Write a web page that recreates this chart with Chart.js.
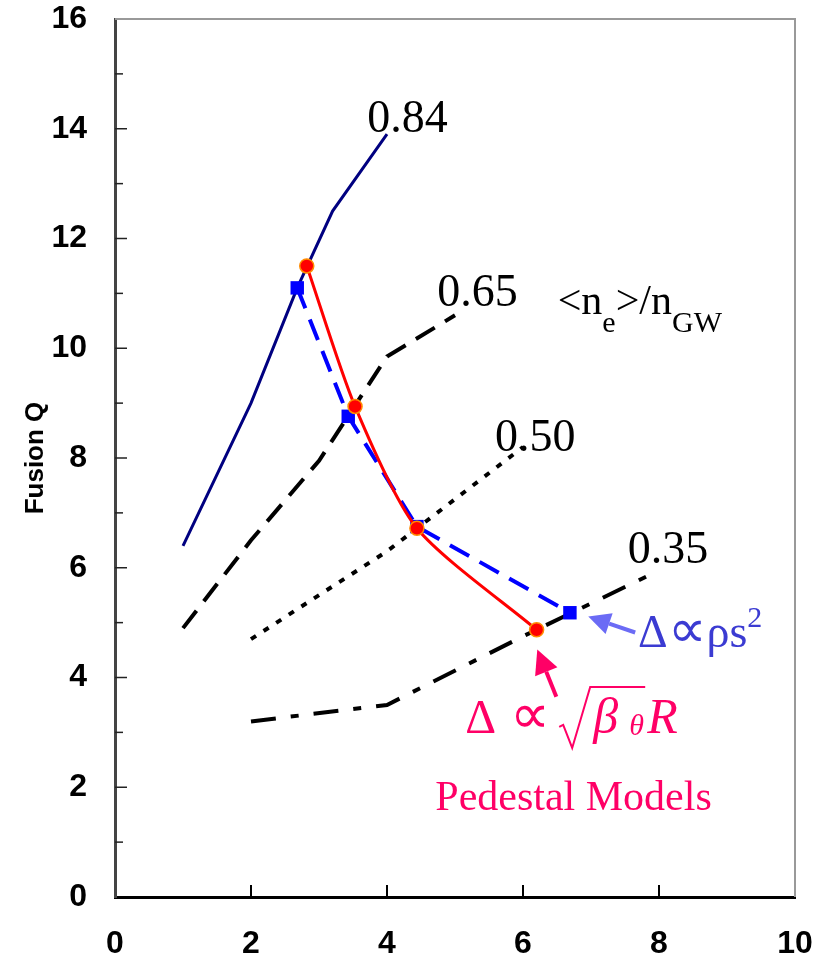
<!DOCTYPE html>
<html>
<head>
<meta charset="utf-8">
<script src="https://cdn.jsdelivr.net/npm/chart.js@4.4.1/dist/chart.umd.min.js"></script>
<style>
  body { margin: 0; background: #fff; }
  #wrap { width: 814px; height: 967px; }
</style>
</head>
<body>
<div id="wrap"><canvas id="fusion"></canvas></div>
<script>
// curves of constant <ne>/nGW
const x084 = [1, 2, 2.68, 3.2, 4];
const q084 = [6.4, 9.0, 11.1, 12.5, 13.9];
const x065 = [1, 2, 3, 4, 5];
const q065 = [4.9, 6.5, 7.95, 9.85, 10.6];
const x050 = [2, 4, 6];
const q050 = [4.7, 6.3, 8.2];
const x035 = [2, 4, 6, 8];
const q035 = [3.2, 3.5, 4.75, 5.95];

// pedestal models
const xSqrt = [2.82, 3.53, 4.44, 6.2];
const qSqrt = [11.5, 8.94, 6.72, 4.87];
const xRho = [2.68, 3.43, 4.44, 6.69];
const qRho = [11.1, 8.76, 6.75, 5.18];

const curveLabels = ['0.84', '0.65', '0.50', '0.35'];
const curveLabelX = [3.71, 4.74, 5.59, 7.54];
const curveLabelY = [13.94, 10.77, 8.12, 6.09];

const xTicks = [0, 2, 4, 6, 8, 10];
const yTicks = [0, 2, 4, 6, 8, 10, 12, 14, 16];
const yTitle = 'Fusion Q';

const pts = (xs, ys) => xs.map((x, i) => ({x: x, y: ys[i]}));

const serif = "'Liberation Serif', 'Times New Roman', serif";
const sans = "'Liberation Sans', Arial, sans-serif";
const pink = '#ff0066';

// inward ticks, top/right frame, axis title
const frame = {
  id: 'frame',
  afterDraw(chart) {
    const c = chart.ctx, a = chart.chartArea;
    const xs = chart.scales.x, ys = chart.scales.y;
    c.save();
    c.strokeStyle = '#999';
    c.lineWidth = 2;
    c.beginPath();
    c.moveTo(a.left, a.top); c.lineTo(a.right, a.top); c.lineTo(a.right, a.bottom);
    c.stroke();
    c.strokeStyle = '#222';
    c.lineWidth = 1.5;
    for (let v = 1; v < 16; v++) {
      const p = ys.getPixelForValue(v);
      c.beginPath();
      c.moveTo(a.left, p);
      c.lineTo(a.left + (v % 2 === 0 ? 12 : 8), p);
      c.stroke();
    }
    c.strokeStyle = '#000';
    c.lineWidth = 2;
    xTicks.slice(1, -1).forEach(v => {
      const p = xs.getPixelForValue(v);
      c.beginPath();
      c.moveTo(p, a.bottom);
      c.lineTo(p, a.bottom - 12);
      c.stroke();
    });
    c.translate(36, (a.top + a.bottom) / 2);
    c.rotate(-Math.PI / 2);
    c.font = 'bold 26px ' + sans;
    c.fillStyle = '#000';
    c.textAlign = 'center';
    c.textBaseline = 'middle';
    c.fillText(yTitle, 0, 0);
    c.restore();
  }
};

function arrow(c, x1, y1, x2, y2, color, head) {
  const ang = Math.atan2(y2 - y1, x2 - x1);
  const bx = x2 - head * Math.cos(ang), by = y2 - head * Math.sin(ang);
  c.strokeStyle = color;
  c.fillStyle = color;
  c.lineWidth = 4;
  c.beginPath();
  c.moveTo(x1, y1);
  c.lineTo(bx, by);
  c.stroke();
  c.beginPath();
  c.moveTo(x2, y2);
  c.lineTo(bx + head * 0.5 * Math.sin(ang), by - head * 0.5 * Math.cos(ang));
  c.lineTo(bx - head * 0.5 * Math.sin(ang), by + head * 0.5 * Math.cos(ang));
  c.closePath();
  c.fill();
}

const notes = {
  id: 'notes',
  afterDatasetsDraw(chart) {
    const c = chart.ctx;
    const X = v => chart.scales.x.getPixelForValue(v);
    const Y = v => chart.scales.y.getPixelForValue(v);
    c.save();
    c.textBaseline = 'alphabetic';
    c.textAlign = 'left';
    c.fillStyle = '#000';

    c.font = '46px ' + serif;
    curveLabels.forEach((t, i) => c.fillText(t, X(curveLabelX[i]), Y(curveLabelY[i])));

    // <ne>/nGW
    let x = X(6.51), y = Y(10.62);
    const piece = (t, size, dy) => {
      c.font = size + 'px ' + serif;
      c.fillText(t, x, y + dy);
      x += c.measureText(t).width;
    };
    piece('<n', 42, 0); piece('e', 30, 18); piece('>/n', 42, 0); piece('GW', 30, 18);

    // blue model
    c.fillStyle = '#3b3bd2';
    x = X(7.69); y = Y(4.56);
    piece('\u0394', 46, 0); piece('\u221d', 54, 0); piece('\u03c1s', 46, 0); piece('2', 30, -20);
    arrow(c, X(7.65), Y(4.82), X(6.96), Y(5.11), '#6b6bf5', 22);

    // sqrt model
    c.fillStyle = pink;
    const x0 = X(5.15), y0 = Y(2.99);
    c.font = '48px ' + serif;
    c.fillText('\u0394', x0, y0);
    c.font = '56px ' + serif;
    c.fillText('\u221d', x0 + 45, y0);
    c.strokeStyle = pink;
    c.lineWidth = 2;
    c.beginPath();
    c.moveTo(x0 + 94, y0 - 6);
    c.lineTo(x0 + 98, y0 - 8);
    c.lineTo(x0 + 107, y0 + 15);
    c.lineTo(x0 + 125, y0 - 46);
    c.lineTo(x0 + 180, y0 - 46);
    c.stroke();
    c.font = 'italic 50px ' + serif;
    c.fillText('\u03b2', x0 + 128, y0);
    c.font = 'italic 30px ' + serif;
    c.fillText('\u03b8', x0 + 164, y0 + 2);
    c.font = 'italic 50px ' + serif;
    c.fillText('R', x0 + 182, y0);
    arrow(c, X(6.49), Y(3.65), X(6.21), Y(4.51), pink, 24);

    c.font = '42px ' + serif;
    c.fillText('Pedestal Models', X(4.71), Y(1.59));
    c.restore();
  }
};

new Chart(document.getElementById('fusion'), {
  type: 'scatter',
  data: {
    datasets: [
      {
        data: pts(xSqrt, qSqrt), showLine: true, tension: 0.25,
        borderColor: '#ff0000', borderWidth: 3,
        pointRadius: 7, pointBackgroundColor: '#ff0000',
        pointBorderColor: '#ff8c00', pointBorderWidth: 1.5
      },
      {
        data: pts(xRho, qRho), showLine: true,
        borderColor: '#0000ff', borderWidth: 4, borderDash: [22, 12],
        pointStyle: 'rect', pointRadius: 9.5,
        pointBackgroundColor: '#0000ff', pointBorderColor: '#0000ff', pointBorderWidth: 0
      },
      {
        data: pts(x084, q084), showLine: true,
        borderColor: '#000080', borderWidth: 3, pointRadius: 0
      },
      {
        data: pts(x065, q065), showLine: true,
        borderColor: '#000', borderWidth: 4, borderDash: [22, 12], pointRadius: 0
      },
      {
        data: pts(x050, q050), showLine: true,
        borderColor: '#000', borderWidth: 4, borderDash: [6, 9], pointRadius: 0
      },
      {
        data: pts(x035, q035), showLine: true,
        borderColor: '#000', borderWidth: 4, borderDash: [25, 15, 8, 15], pointRadius: 0
      }
    ]
  },
  options: {
    responsive: true,
    maintainAspectRatio: false,
    animation: false,
    layout: { padding: { left: 0, right: 19, top: 19, bottom: 0 } },
    plugins: { legend: { display: false }, tooltip: { enabled: false } },
    scales: {
      x: {
        type: 'linear', min: 0, max: 10,
        afterBuildTicks: s => { s.ticks = xTicks.map(v => ({value: v})); },
        afterFit: s => { s.height = 70; s.paddingLeft = 0; s.paddingRight = 0; },
        grid: { display: false, drawTicks: false },
        border: { color: '#000', width: 3 },
        ticks: {
          padding: 28, color: '#000',
          font: { family: sans, size: 32, weight: 'bold' }
        }
      },
      y: {
        type: 'linear', min: 0, max: 16,
        afterBuildTicks: s => { s.ticks = yTicks.map(v => ({value: v})); },
        afterFit: s => { s.width = 115; s.paddingTop = 0; s.paddingBottom = 0; },
        grid: { display: false, drawTicks: false },
        border: { color: '#444', width: 3 },
        ticks: {
          padding: 28, color: '#000',
          font: { family: sans, size: 32, weight: 'bold' }
        }
      }
    }
  },
  plugins: [frame, notes]
});
</script>
</body>
</html>
